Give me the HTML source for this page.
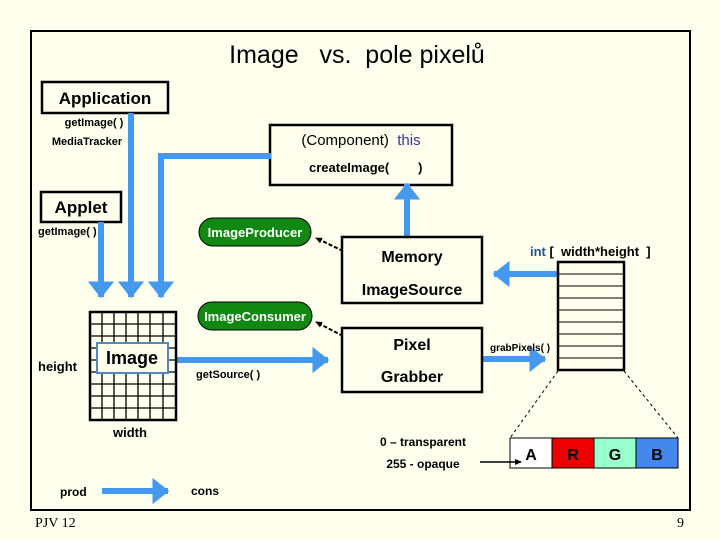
<!DOCTYPE html>
<html><head><meta charset="utf-8"><style>
html,body{margin:0;padding:0;background:#FFFFEE;}
svg{display:block;}
text{font-family:"Liberation Sans",sans-serif;font-weight:bold;fill:#000;white-space:pre;}
</style></head><body>
<svg width="720" height="540" viewBox="0 0 720 540" xmlns="http://www.w3.org/2000/svg" xml:space="preserve">
<defs>
<marker id="ah" markerWidth="5" markerHeight="5" refX="2.6" refY="2.2" orient="auto" markerUnits="strokeWidth">
<path d="M0,0 L2.8,2.2 L0,4.4 z" fill="#4499EE"/></marker>
<marker id="sh" markerWidth="8" markerHeight="8" refX="6" refY="4" orient="auto" markerUnits="userSpaceOnUse">
<path d="M0,1 L7,4 L0,7 z" fill="#000"/></marker>
</defs>
<rect x="0" y="0" width="720" height="540" fill="#FFFFEE"/>
<rect x="31" y="31" width="659" height="479" fill="none" stroke="#000" stroke-width="2"/>
<text x="357" y="63" text-anchor="middle" style="font-weight:normal" font-size="25">Image   vs.  pole pixelů</text>

<rect x="42" y="82" width="126" height="31" fill="#FFFFEE" stroke="#000" stroke-width="2.5"/>
<text x="105" y="104" text-anchor="middle" font-size="17">Application</text>
<text x="94" y="126" text-anchor="middle" font-size="11">getImage( )</text>
<text x="87" y="145" text-anchor="middle" font-size="11">MediaTracker</text>

<rect x="270" y="125" width="182" height="60" fill="#FFFFEE" stroke="#000" stroke-width="2.5"/>
<text x="361" y="145" text-anchor="middle" font-size="15" style="font-weight:normal">(Component)  <tspan fill="#333399">this</tspan></text>
<text x="309" y="172" font-size="13">createImage(        )</text>

<rect x="41" y="192" width="80" height="30" fill="#FFFFEE" stroke="#000" stroke-width="2.5"/>
<text x="81" y="213" text-anchor="middle" font-size="17">Applet</text>
<text x="38" y="235" font-size="11">getImage( )</text>

<g stroke="#4499EE" stroke-width="6" fill="none">
<line x1="101" y1="222" x2="101" y2="297" marker-end="url(#ah)"/>
<line x1="131" y1="113" x2="131" y2="297" marker-end="url(#ah)"/>
<polyline points="271,156 161,156 161,297" marker-end="url(#ah)"/>
<line x1="407" y1="238" x2="407" y2="184" marker-end="url(#ah)"/>
<line x1="558" y1="274" x2="494" y2="274" marker-end="url(#ah)"/>
<line x1="482" y1="359" x2="545" y2="359" marker-end="url(#ah)"/>
<line x1="176" y1="360" x2="328" y2="360" marker-end="url(#ah)"/>
<line x1="102" y1="491" x2="168" y2="491" marker-end="url(#ah)"/>
</g>

<rect x="199" y="218" width="112" height="28" rx="14" fill="#118811" stroke="#000" stroke-width="1"/>
<text x="255" y="237" text-anchor="middle" font-size="13" style="fill:#fff">ImageProducer</text>
<rect x="198" y="302" width="114" height="28" rx="14" fill="#118811" stroke="#000" stroke-width="1"/>
<text x="255" y="321" text-anchor="middle" font-size="13" style="fill:#fff">ImageConsumer</text>
<g stroke="#000" stroke-width="2" stroke-dasharray="4,2">
<line x1="343" y1="251" x2="316" y2="238" marker-end="url(#sh)"/>
<line x1="343" y1="336" x2="316" y2="322" marker-end="url(#sh)"/>
</g>

<rect x="342" y="237" width="140" height="66" fill="#FFFFEE" stroke="#000" stroke-width="2.5"/>
<text x="412" y="262" text-anchor="middle" font-size="16">Memory</text>
<text x="412" y="295" text-anchor="middle" font-size="16">ImageSource</text>

<rect x="342" y="328" width="140" height="64" fill="#FFFFEE" stroke="#000" stroke-width="2.5"/>
<text x="412" y="350" text-anchor="middle" font-size="16">Pixel</text>
<text x="412" y="382" text-anchor="middle" font-size="16">Grabber</text>
<text x="490" y="351" font-size="10">grabPixels( )</text>

<text x="530" y="256" font-size="13"><tspan fill="#225599">int</tspan> [  width*height  ]</text>
<rect x="558" y="262" width="66" height="108" fill="#FFFFEE" stroke="#000" stroke-width="2.5"/>
<g stroke="#000" stroke-width="1">
<line x1="558" y1="274" x2="624" y2="274"/><line x1="558" y1="286" x2="624" y2="286"/>
<line x1="558" y1="298" x2="624" y2="298"/><line x1="558" y1="310" x2="624" y2="310"/>
<line x1="558" y1="322" x2="624" y2="322"/><line x1="558" y1="334" x2="624" y2="334"/>
<line x1="558" y1="346" x2="624" y2="346"/><line x1="558" y1="358" x2="624" y2="358"/>
</g>
<g stroke="#000" stroke-width="1" stroke-dasharray="3,3">
<line x1="558" y1="371" x2="510" y2="438"/><line x1="624" y1="371" x2="678" y2="438"/>
</g>

<rect x="510" y="438" width="42" height="30" fill="#FFFFFF"/>
<rect x="552" y="438" width="42" height="30" fill="#EE0000"/>
<rect x="594" y="438" width="42" height="30" fill="#99FFCC"/>
<rect x="636" y="438" width="42" height="30" fill="#4488EE"/>
<rect x="510" y="438" width="168" height="30" fill="none" stroke="#000" stroke-width="1"/>
<g stroke="#000" stroke-width="1"><line x1="552" y1="438" x2="552" y2="468"/><line x1="594" y1="438" x2="594" y2="468"/><line x1="636" y1="438" x2="636" y2="468"/></g>
<text x="531" y="460" text-anchor="middle" font-size="16">A</text>
<text x="573" y="460" text-anchor="middle" font-size="16">R</text>
<text x="615" y="460" text-anchor="middle" font-size="16">G</text>
<text x="657" y="460" text-anchor="middle" font-size="16">B</text>
<line x1="480" y1="462" x2="521" y2="462" stroke="#000" stroke-width="1.5" marker-end="url(#sh)"/>
<text x="423" y="446" text-anchor="middle" font-size="12">0 – transparent</text>
<text x="423" y="468" text-anchor="middle" font-size="12">255 - opaque</text>

<rect x="90" y="312" width="86" height="108" fill="#FFFFEE" stroke="#000" stroke-width="2.5"/>
<g stroke="#000" stroke-width="1.3">
<line x1="102" y1="312" x2="102" y2="420"/><line x1="114" y1="312" x2="114" y2="420"/>
<line x1="126" y1="312" x2="126" y2="420"/><line x1="138" y1="312" x2="138" y2="420"/>
<line x1="150" y1="312" x2="150" y2="420"/><line x1="163" y1="312" x2="163" y2="420"/>
<line x1="90" y1="324" x2="176" y2="324"/><line x1="90" y1="336" x2="176" y2="336"/>
<line x1="90" y1="348" x2="176" y2="348"/><line x1="90" y1="360" x2="176" y2="360"/>
<line x1="90" y1="372" x2="176" y2="372"/><line x1="90" y1="384" x2="176" y2="384"/>
<line x1="90" y1="396" x2="176" y2="396"/><line x1="90" y1="408" x2="176" y2="408"/>
</g>
<rect x="97" y="343" width="71" height="30" fill="#FFFFEE" stroke="#5588BB" stroke-width="2"/>
<text x="132" y="364" text-anchor="middle" font-size="18">Image</text>
<text x="38" y="371" font-size="13">height</text>
<text x="113" y="437" font-size="13">width</text>
<text x="196" y="378" font-size="11">getSource( )</text>

<text x="60" y="496" font-size="12">prod</text>
<text x="191" y="495" font-size="12">cons</text>
<text x="35" y="527" font-size="14" style="font-family:'Liberation Serif',serif;font-weight:normal">PJV 12</text>
<text x="684" y="527" text-anchor="end" font-size="14" style="font-family:'Liberation Serif',serif;font-weight:normal">9</text>
</svg>
</body></html>
